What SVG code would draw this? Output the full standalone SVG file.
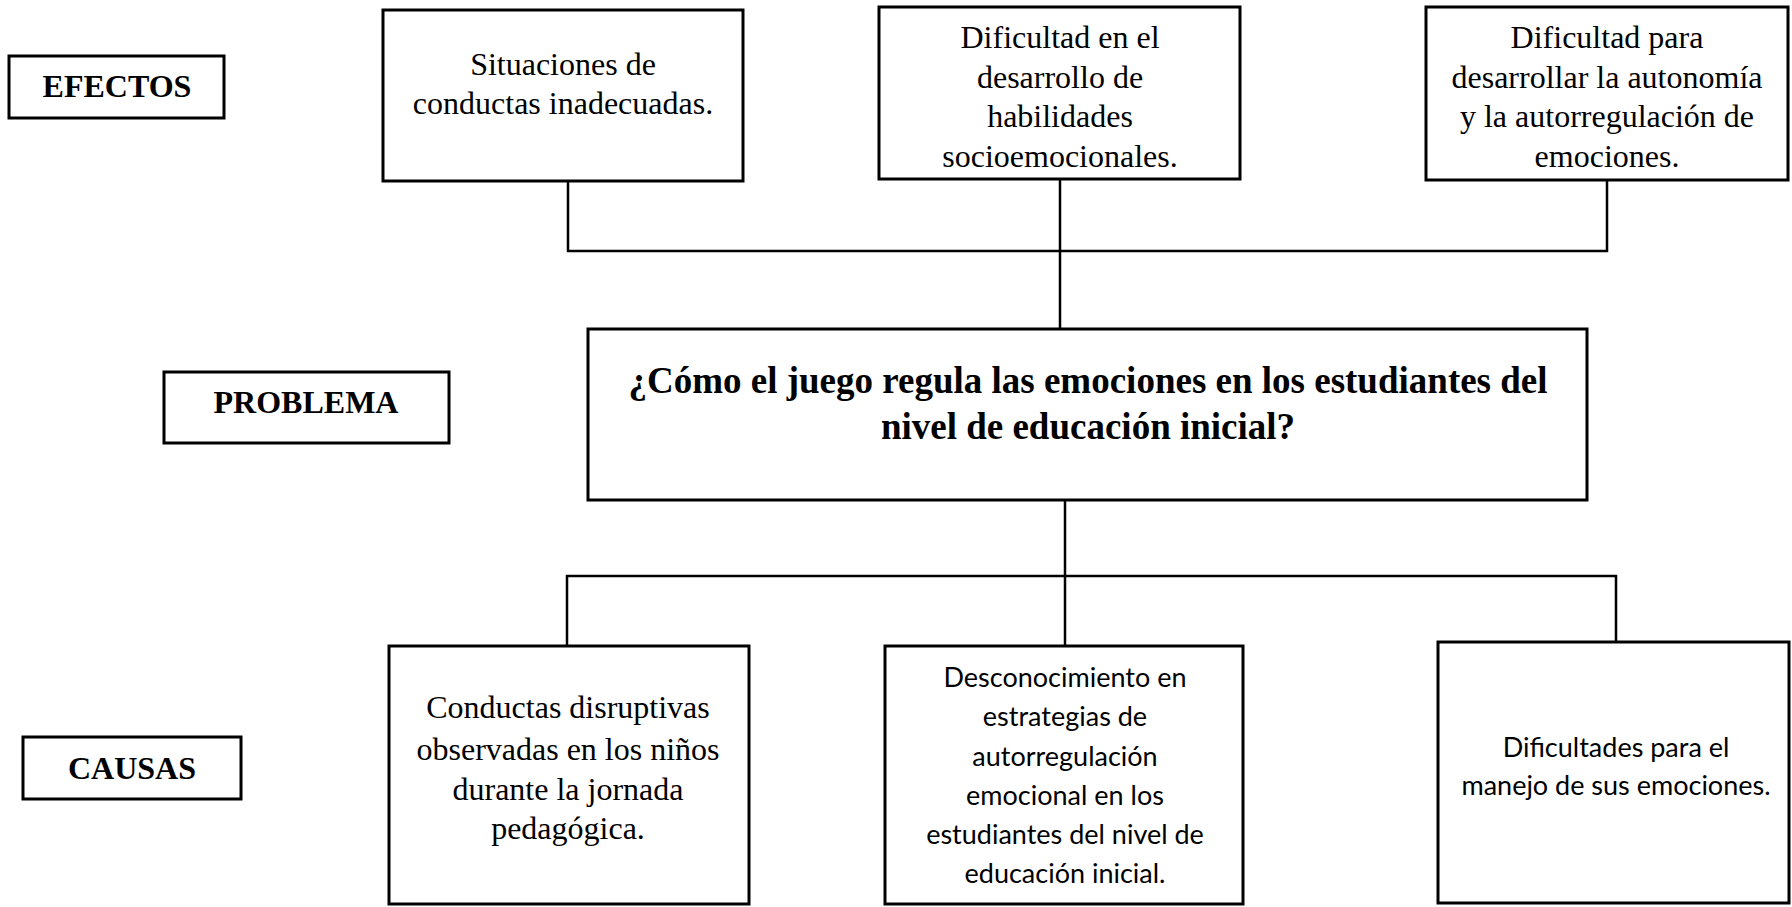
<svg xmlns="http://www.w3.org/2000/svg" width="1792" height="907" viewBox="0 0 1792 907">
<style>
.box{fill:#fff;stroke:#000;stroke-width:3}
.conn{fill:none;stroke:#000;stroke-width:2.5}
.serif{font-family:"Liberation Serif","Times New Roman",serif;font-size:32px;fill:#000;text-anchor:middle}
.lbl{font-family:"Liberation Serif","Times New Roman",serif;font-size:32px;font-weight:bold;fill:#000;text-anchor:middle}
.prob{font-family:"Liberation Serif","Times New Roman",serif;font-size:37px;font-weight:bold;fill:#000;text-anchor:middle}
.sans{font-family:Lato,"Open Sans",sans-serif;font-size:27px;fill:#000;text-anchor:middle}
</style>
<rect width="1792" height="907" fill="#fff"/>
<g id="connectors">
<polyline class="conn" points="568,181 568,251 1607,251 1607,180"/>
<line class="conn" x1="1060" y1="179" x2="1060" y2="329"/>
<line class="conn" x1="1065" y1="500" x2="1065" y2="646"/>
<polyline class="conn" points="567,646 567,576 1616,576 1616,642"/>
</g>
<g id="label-efectos">
<rect class="box" x="9" y="56" width="215" height="62"/>
<text class="lbl" x="117" y="97">EFECTOS</text>
</g>
<g id="label-problema">
<rect class="box" x="164" y="372" width="285" height="71"/>
<text class="lbl" x="306" y="413">PROBLEMA</text>
</g>
<g id="label-causas">
<rect class="box" x="23" y="737" width="218" height="62"/>
<text class="lbl" x="132" y="779">CAUSAS</text>
</g>
<g id="efecto-1">
<rect class="box" x="383" y="10" width="360" height="171"/>
<text class="serif" x="563" y="75">Situaciones de</text>
<text class="serif" x="563" y="114">conductas inadecuadas.</text>
</g>
<g id="efecto-2">
<rect class="box" x="879" y="7" width="361" height="172"/>
<text class="serif" x="1060" y="48">Dificultad en el</text>
<text class="serif" x="1060" y="88">desarrollo de</text>
<text class="serif" x="1060" y="127">habilidades</text>
<text class="serif" x="1060" y="167">socioemocionales.</text>
</g>
<g id="efecto-3">
<rect class="box" x="1426" y="7" width="362" height="173"/>
<text class="serif" x="1607" y="48">Dificultad para</text>
<text class="serif" x="1607" y="88">desarrollar la autonomía</text>
<text class="serif" x="1607" y="127">y la autorregulación de</text>
<text class="serif" x="1607" y="167">emociones.</text>
</g>
<g id="problema">
<rect class="box" x="588" y="329" width="999" height="171"/>
<text class="prob" x="1088" y="393">¿Cómo el juego regula las emociones en los estudiantes del</text>
<text class="prob" x="1088" y="439">nivel de educación inicial?</text>
</g>
<g id="causa-1">
<rect class="box" x="389" y="646" width="360" height="258"/>
<text class="serif" x="568" y="718">Conductas disruptivas</text>
<text class="serif" x="568" y="760">observadas en los niños</text>
<text class="serif" x="568" y="800">durante la jornada</text>
<text class="serif" x="568" y="839">pedagógica.</text>
</g>
<g id="causa-2">
<rect class="box" x="885" y="646" width="358" height="258"/>
<text class="sans" x="1065" y="687">Desconocimiento en</text>
<text class="sans" x="1065" y="726">estrategias de</text>
<text class="sans" x="1065" y="766">autorregulación</text>
<text class="sans" x="1065" y="805">emocional en los</text>
<text class="sans" x="1065" y="844">estudiantes del nivel de</text>
<text class="sans" x="1065" y="883">educación inicial.</text>
</g>
<g id="causa-3">
<rect class="box" x="1438" y="642" width="351" height="261"/>
<text class="sans" x="1616" y="757">Dificultades para el</text>
<text class="sans" x="1616" y="795">manejo de sus emociones.</text>
</g>
</svg>
